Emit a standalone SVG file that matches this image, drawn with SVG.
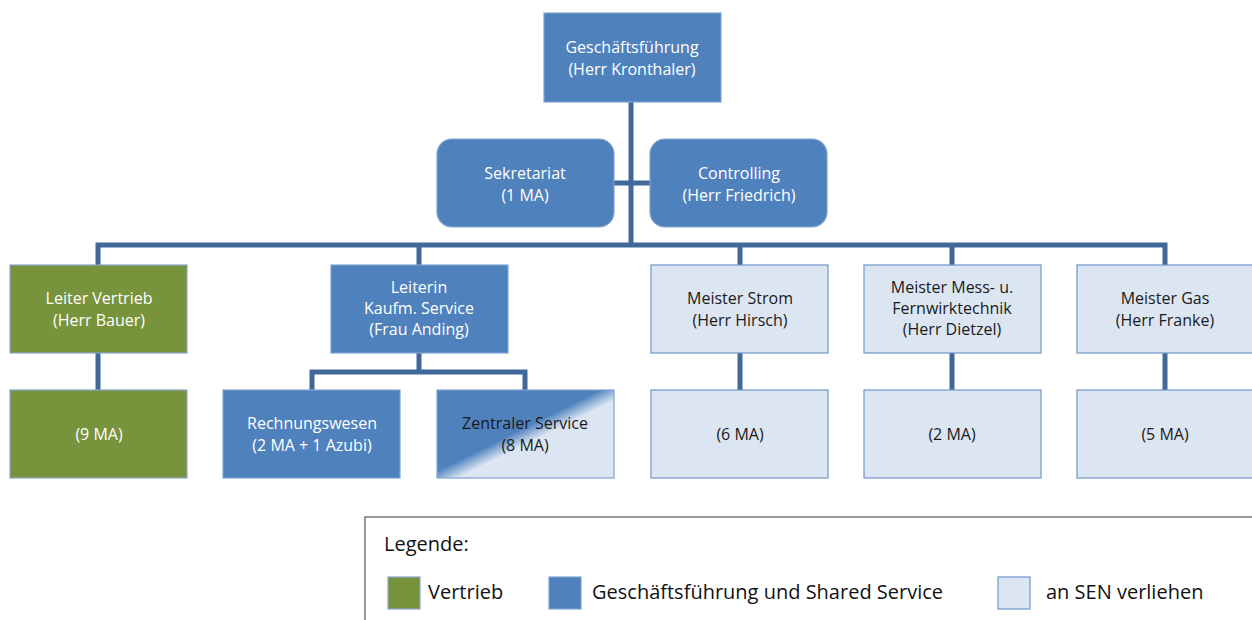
<svg xmlns="http://www.w3.org/2000/svg" width="1252" height="620" viewBox="0 0 1252 620">
<style>
.t{font-family:"Open Sans","Liberation Sans",sans-serif;font-size:16px;text-anchor:middle}
.w{fill:#ffffff}
.k{fill:#1a1a1a}
.blue{fill:#4F81BD;stroke:#7EA3CF;stroke-width:1.2}
.green{fill:#77933C;stroke:#8AA5D0;stroke-width:1.2}
.light{fill:#DCE6F2;stroke:#6E96C8;stroke-width:1.2}
.con{fill:none;stroke:#40699A;stroke-width:5}
.lg{font-family:"Open Sans","Liberation Sans",sans-serif;font-size:20px;fill:#111}
</style>
<defs>
<linearGradient id="zs" x1="0" y1="0" x2="1" y2="1">
<stop offset="0.46" stop-color="#4F81BD"/>
<stop offset="0.56" stop-color="#DCE6F2"/>
</linearGradient>
</defs>
<g id="connectors">
<path class="con" d="M631 102 V245"/>
<path class="con" d="M614 183 H650"/>
<path class="con" d="M98 265 V245 H1165 V265"/>
<path class="con" d="M419 245 V265"/>
<path class="con" d="M740 245 V265"/>
<path class="con" d="M952 245 V265"/>
<path class="con" d="M98 353 V390"/>
<path class="con" d="M419 353 V372"/>
<path class="con" d="M312 390 V372 H525 V390"/>
<path class="con" d="M740 353 V390"/>
<path class="con" d="M952 353 V390"/>
<path class="con" d="M1165 353 V390"/>
</g>
<g id="gf">
<rect class="blue" x="544" y="13" width="177" height="89"/>
<text class="t w" x="632" y="53">Geschäftsführung</text>
<text class="t w" x="632" y="75">(Herr Kronthaler)</text>
</g>
<g id="sekretariat">
<rect class="blue" x="437" y="139" width="177" height="88" rx="15"/>
<text class="t w" x="525" y="179">Sekretariat</text>
<text class="t w" x="525" y="201">(1 MA)</text>
</g>
<g id="controlling">
<rect class="blue" x="650" y="139" width="177" height="88" rx="15"/>
<text class="t w" x="739" y="179">Controlling</text>
<text class="t w" x="739" y="201">(Herr Friedrich)</text>
</g>
<g id="vertrieb">
<rect class="green" x="10" y="265" width="177" height="88"/>
<text class="t w" x="99" y="304">Leiter Vertrieb</text>
<text class="t w" x="99" y="326">(Herr Bauer)</text>
</g>
<g id="kaufm">
<rect class="blue" x="331" y="265" width="177" height="88"/>
<text class="t w" x="419" y="293">Leiterin</text>
<text class="t w" x="419" y="314">Kaufm. Service</text>
<text class="t w" x="419" y="335">(Frau Anding)</text>
</g>
<g id="strom">
<rect class="light" x="651" y="265" width="177" height="88"/>
<text class="t k" x="740" y="304">Meister Strom</text>
<text class="t k" x="740" y="326">(Herr Hirsch)</text>
</g>
<g id="mess">
<rect class="light" x="864" y="265" width="177" height="88"/>
<text class="t k" x="952" y="293">Meister Mess- u.</text>
<text class="t k" x="952" y="314">Fernwirktechnik</text>
<text class="t k" x="952" y="335">(Herr Dietzel)</text>
</g>
<g id="gas">
<rect class="light" x="1077" y="265" width="177" height="88"/>
<text class="t k" x="1165" y="304">Meister Gas</text>
<text class="t k" x="1165" y="326">(Herr Franke)</text>
</g>
<g id="vertrieb-ma">
<rect class="green" x="10" y="390" width="177" height="88"/>
<text class="t w" x="99" y="440">(9 MA)</text>
</g>
<g id="rechnungswesen">
<rect class="blue" x="223" y="390" width="177" height="88"/>
<text class="t w" x="312" y="429">Rechnungswesen</text>
<text class="t w" x="312" y="451">(2 MA + 1 Azubi)</text>
</g>
<g id="zentraler">
<rect x="437" y="390" width="177" height="88" fill="url(#zs)" stroke="#7EA3CF" stroke-width="1.2"/>
<text class="t k" x="525" y="429">Zentraler Service</text>
<text class="t k" x="525" y="451">(8 MA)</text>
</g>
<g id="strom-ma">
<rect class="light" x="651" y="390" width="177" height="88"/>
<text class="t k" x="740" y="440">(6 MA)</text>
</g>
<g id="mess-ma">
<rect class="light" x="864" y="390" width="177" height="88"/>
<text class="t k" x="952" y="440">(2 MA)</text>
</g>
<g id="gas-ma">
<rect class="light" x="1077" y="390" width="177" height="88"/>
<text class="t k" x="1165" y="440">(5 MA)</text>
</g>
<g id="legend">
<rect x="365" y="517" width="900" height="110" fill="#ffffff" stroke="#555" stroke-width="1.2"/>
<text class="lg" x="384" y="551">Legende:</text>
<rect class="green" x="388" y="577" width="32" height="32"/>
<text class="lg" x="428" y="599">Vertrieb</text>
<rect class="blue" x="549" y="577" width="32" height="32"/>
<text class="lg" x="592" y="599">Geschäftsführung und Shared Service</text>
<rect class="light" x="998" y="577" width="32" height="32"/>
<text class="lg" x="1046" y="599">an SEN verliehen</text>
</g>
</svg>
